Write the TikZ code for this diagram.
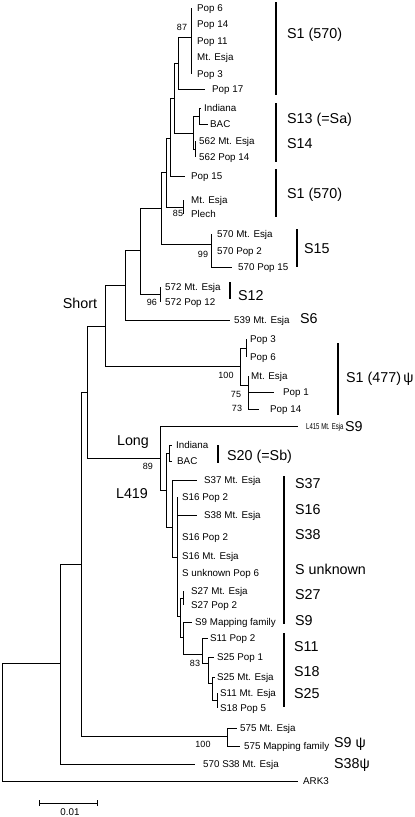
\documentclass[tikz,border=0pt]{standalone}
\usepackage{fontspec}
\setmainfont{Liberation Sans}
\tikzset{
 br/.style={line width=0.9pt},
 lab/.style={anchor=west, inner sep=0pt, font=\fontsize{9.8}{10}\selectfont, text height=7pt, text depth=0pt},
 big/.style={anchor=west, inner sep=0pt, font=\fontsize{14.3}{15}\selectfont, text height=10.2pt, text depth=0pt},
 bs/.style={inner sep=0pt, font=\fontsize{9}{10}\selectfont, text height=6.5pt, text depth=0pt},
 bar/.style={line width=2.8pt},
}
\newcommand{\Leaf}[5]{\coordinate (#1) at (#2,#3);\node[lab] (#1t) at (#4,#3) {#5};}
\newcommand{\Edges}[2]{\foreach \cc in {#2} {\draw[br] (#1) |- (\cc);}}
\newcommand{\Bar}[4]{\coordinate (#1t) at (#2,#3);\coordinate (#1b) at (#2,#4);\draw[bar] (#1t) -- (#1b);}
\begin{document}
\begin{tikzpicture}[x=1pt,y=-1pt]
\useasboundingbox (0,0) rectangle (415,817);
% leaves
\Leaf{a1}{191}{8}{197}{Pop 6}
\Leaf{a2}{191}{24}{197}{Pop 14}
\Leaf{a3}{191}{41}{197}{Pop 11}
\Leaf{a4}{191}{57}{197}{Mt. Esja}
\Leaf{a5}{191}{74}{197}{Pop 3}
\Leaf{a6}{205}{89}{212}{Pop 17}
\Leaf{a7}{201}{108}{204}{Indiana}
\Leaf{a8}{208}{124}{210}{BAC}
\Leaf{a9}{195}{141}{199}{562 Mt. Esja}
\Leaf{a10}{195}{157}{199}{562 Pop 14}
\Leaf{a11}{185}{176}{191}{Pop 15}
\Leaf{a12}{183}{200}{191}{Mt. Esja}
\Leaf{a13}{183}{214}{191}{Plech}
\Leaf{a14}{211}{234}{217}{570 Mt. Esja}
\Leaf{a15}{211}{251}{217}{570 Pop 2}
\Leaf{a16}{232}{267}{238}{570 Pop 15}
\Leaf{a17}{160}{287}{165}{572 Mt. Esja}
\Leaf{a18}{160}{302}{165}{572 Pop 12}
\Leaf{a19}{230}{320}{234}{539 Mt. Esja}
\Leaf{a20}{246}{339}{250}{Pop 3}
\Leaf{a21}{246}{357}{250}{Pop 6}
\Leaf{a22}{248}{376}{251}{Mt. Esja}
\Leaf{a23}{274}{392}{283}{Pop 1}
\Leaf{a24}{259}{409}{270}{Pop 14}
\Leaf{a25}{298}{426}{306}{\fontsize{8.6}{9}\selectfont\scalebox{0.7}[1]{L415 Mt. Esja}}
\Leaf{a26}{172}{445}{176}{Indiana}
\Leaf{a27}{172}{461}{177}{BAC}
\Leaf{a28}{197}{480}{204}{S37 Mt. Esja}
\Leaf{a29}{177}{497}{182}{S16 Pop 2}
\Leaf{a30}{197}{515}{204}{S38 Mt. Esja}
\Leaf{a31}{177}{537}{182}{S16 Pop 2}
\Leaf{a32}{177}{556}{182}{S16 Mt. Esja}
\Leaf{a33}{177}{573}{182}{S unknown Pop 6}
\Leaf{a34}{183}{591}{191}{S27 Mt. Esja}
\Leaf{a35}{183}{605}{191}{S27 Pop 2}
\Leaf{a36}{192}{622}{195}{S9 Mapping family}
\Leaf{a37}{208}{638}{210}{S11 Pop 2}
\Leaf{a38}{214}{657}{217}{S25 Pop 1}
\Leaf{a39}{215}{677}{217}{S25 Mt. Esja}
\Leaf{a40}{217}{693}{220}{S11 Mt. Esja}
\Leaf{a41}{217}{708}{220}{S18 Pop 5}
\Leaf{a42}{237}{728}{240}{575 Mt. Esja}
\Leaf{a43}{240}{746}{244}{575 Mapping family}
\Leaf{a44}{195}{764}{203}{570 S38 Mt. Esja}
\Leaf{a45}{298}{781}{303}{ARK3}
% internal nodes
\coordinate (Z) at (191,37);
\coordinate (Y) at (178,63);
\coordinate (W) at (199,116);
\coordinate (X) at (195,149);
\coordinate (V) at (193,133);
\coordinate (U) at (174,98);
\coordinate (T) at (170,138);
\coordinate (MP) at (183,207);
\coordinate (S) at (166,172);
\coordinate (N570) at (211,244);
\coordinate (R) at (161,208);
\coordinate (N572) at (160,294);
\coordinate (Q) at (140,250);
\coordinate (P) at (125,285);
\coordinate (N477a) at (246,348);
\coordinate (N477c) at (248,385);
\coordinate (N477) at (240,366);
\coordinate (K) at (105,326);
\coordinate (IB) at (169,453);
\coordinate (I5) at (217,700);
\coordinate (H5) at (212,683);
\coordinate (G5) at (208,663);
\coordinate (F5) at (202,654);
\coordinate (E5) at (183,637);
\coordinate (D5) at (183,598);
\coordinate (C5) at (180,616);
\coordinate (B5) at (177,557);
\coordinate (A5) at (172,527);
\coordinate (M5) at (166,490);
\coordinate (Lg) at (160,458);
\coordinate (J) at (87,392);
\coordinate (N575) at (227,736);
\coordinate (I1) at (81,564);
\coordinate (H1) at (60,663);
\coordinate (Rt) at (2,722);
% branches
\Edges{Z}{a1,a2,a3,a4,a5}
\Edges{Y}{Z,a6}
\Edges{W}{a7,a8}
\Edges{X}{a9,a10}
\Edges{V}{W,X}
\Edges{U}{Y,V}
\Edges{T}{U,a11}
\Edges{MP}{a12,a13}
\Edges{S}{T,MP}
\Edges{N570}{a14,a15,a16}
\Edges{R}{S,N570}
\Edges{N572}{a17,a18}
\Edges{Q}{R,N572}
\Edges{P}{Q,a19}
\Edges{N477a}{a20,a21}
\Edges{N477c}{a22,a23,a24}
\Edges{N477}{N477a,N477c}
\Edges{K}{P,N477}
\Edges{IB}{a26,a27}
\Edges{D5}{a34,a35}
\Edges{I5}{a40,a41}
\Edges{H5}{a39,I5}
\Edges{G5}{a38,H5}
\Edges{F5}{a37,G5}
\Edges{E5}{a36,F5}
\Edges{C5}{D5,E5}
\Edges{B5}{a29,a30,a31,a32,a33,C5}
\Edges{A5}{a28,B5}
\Edges{M5}{IB,A5}
\Edges{Lg}{a25,M5}
\Edges{J}{K,Lg}
\Edges{N575}{a42,a43}
\Edges{I1}{J,N575}
\Edges{H1}{I1,a44}
\Edges{Rt}{H1,a45}
% bootstrap values
\node[bs] (bs87) at (182,27) {87};
\node[bs] (bs85) at (178,213) {85};
\node[bs] (bs99) at (203,254) {99};
\node[bs] (bs96) at (152,302) {96};
\node[bs] (bs100a) at (226,375) {100};
\node[bs] (bs75) at (236,394) {75};
\node[bs] (bs73) at (237,408) {73};
\node[bs] (bs89) at (148,466) {89};
\node[bs] (bs83) at (195,663) {83};
\node[bs] (bs100b) at (203,744) {100};
% clade labels
\node[big, anchor=center] (short) at (80,303) {Short};
\node[big, anchor=center] (long) at (133,440) {Long};
\node[big, anchor=center] (l419) at (132,493) {L419};
% bars
\Bar{br1}{276}{2}{95}
\Bar{br2}{276}{103}{162}
\Bar{br3}{276}{169}{217}
\Bar{br4}{297}{229}{267}
\Bar{br5}{230}{282}{299}
\Bar{br6}{338}{343}{415}
\Bar{br7}{218}{445}{463}
\Bar{br8}{284}{476}{624}
\Bar{br9}{284}{633}{707}
% allele labels
\node[big] (s1a) at (287,33) {S1 (570)};
\node[big] (s13) at (287,118) {S13 (=Sa)};
\node[big] (s14) at (287,143) {S14};
\node[big] (s1b) at (287,193) {S1 (570)};
\node[big] (s15) at (304,248) {S15};
\node[big] (s12) at (238,295) {S12};
\node[big] (s6) at (300,318) {S6};
\node[big] (s1c) at (346,377) {S1 (477)\,ψ};
\node[big] (s9a) at (345,426) {S9};
\node[big] (s20) at (227,455) {S20 (=Sb)};
\node[big] (s37) at (295,483) {S37};
\node[big] (s16) at (295,509) {S16};
\node[big] (s38) at (295,534) {S38};
\node[big] (sunk) at (295,569) {S unknown};
\node[big] (s27) at (295,594) {S27};
\node[big] (s9b) at (295,620) {S9};
\node[big] (s11) at (294,646) {S11};
\node[big] (s18) at (294,671) {S18};
\node[big] (s25) at (294,693) {S25};
\node[big] (s9c) at (334,742) {S9 ψ};
\node[big] (s38c) at (334,763) {S38ψ};
% scale bar
\coordinate (sbL) at (39,803);
\coordinate (sbR) at (97,803);
\draw[br] (sbL) -- (sbR);
\draw[br] ([yshift=-3pt]sbL) -- ([yshift=3pt]sbL);
\draw[br] ([yshift=-3pt]sbR) -- ([yshift=3pt]sbR);
\node[lab, anchor=center] (sbt) at (70,812) {0.01};
\end{tikzpicture}
\end{document}
